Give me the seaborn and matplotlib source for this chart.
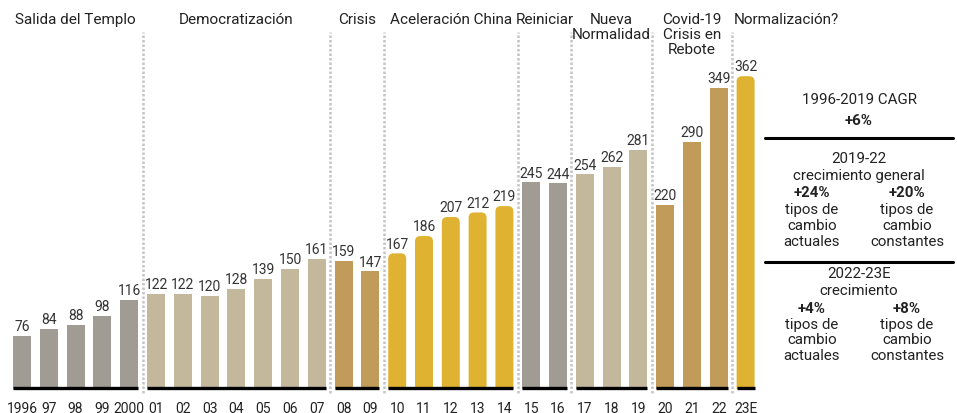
import matplotlib
matplotlib.use("Agg")
import matplotlib.pyplot as plt
from matplotlib.patches import FancyBboxPatch
from matplotlib.lines import Line2D
import seaborn as sns

# data
years = ['1996', '97', '98', '99', '2000', '01', '02', '03', '04', '05', '06', '07',
         '08', '09', '10', '11', '12', '13', '14', '15', '16', '17', '18', '19',
         '20', '21', '22', '23E']
values = [76, 84, 88, 98, 116, 122, 122, 120, 128, 139, 150, 161,
          159, 147, 167, 186, 207, 212, 219, 245, 244, 254, 262, 281,
          220, 290, 349, 362]
phase_titles = ['Salida del Templo', 'Democratización', 'Crisis', 'Aceleración China',
                'Reiniciar', 'Nueva\nNormalidad', 'Covid-19\nCrisis en\nRebote', 'Normalización?']
phase_sizes = [5, 7, 2, 5, 2, 3, 3, 1]
phase_colors = ['#a09b93', '#c4b89c', '#c09b5a', '#dfb331',
                '#a09b93', '#c4b89c', '#c09b5a', '#dfb331']
rounded_color = '#dfb331'

W, H = 957, 414
FONT = ['Roboto', 'DejaVu Sans']

sns.set_style('white')
plt.rcParams['font.family'] = FONT
plt.rcParams['text.color'] = '#222222'

bar_colors = []
for size, col in zip(phase_sizes, phase_colors):
    bar_colors += [col] * size

fig = plt.figure(figsize=(W / 100, H / 100), dpi=100)
ax = fig.add_axes([0, 24 / H, 1, 390 / H])

bar_w = 0.67
sns.barplot(x=years, y=values, hue=years, palette=bar_colors, legend=False,
            width=bar_w, linewidth=0, saturation=1, ax=ax)

y0, y1 = 17.6, 447
ax.set_ylim(y0, y1)
ax.set_xlim(-22 / 26.8, -22 / 26.8 + W / 26.8)

# rounded tops for the yellow phases
px_per_x = 26.8
px_per_y = 390 / (y1 - y0)
aspect = px_per_x / px_per_y
for cont, col in zip(ax.containers, bar_colors):
    p = cont.patches[0]
    if col == rounded_color:
        rb = FancyBboxPatch((p.get_x(), p.get_y()), p.get_width(), p.get_height(),
                            boxstyle="round,pad=0,rounding_size=0.2",
                            mutation_aspect=aspect, fc=col, ec='none')
        p.set_visible(False)
        ax.add_patch(rb)
    ax.bar_label(cont, padding=2, fontsize=10, color='#333333')

# separators, baseline segments and phase titles
start = 0
for title, size in zip(phase_titles, phase_sizes):
    end = start + size - 1
    ax.hlines(y0 + 1.2, start - bar_w / 2, end + bar_w / 2, color='black',
              lw=2.4, clip_on=False, zorder=5)
    if start > 0:
        ax.axvline(start - 0.5, ymin=-0.01, ymax=0.915, color='#c4c4c4',
                   lw=1.8, ls=(0, (1, 0.8)), zorder=0, clip_on=False)
    if title == 'Normalización?':
        ax.text(start - 0.45, 1 - 13 / 390, title, transform=ax.get_xaxis_transform(),
                ha='left', va='top', fontsize=11, linespacing=1.08)
    else:
        ax.text((start + end) / 2, 1 - 13 / 390, title, transform=ax.get_xaxis_transform(),
                ha='center', va='top', fontsize=11, linespacing=1.08)
    start = end + 1

ax.tick_params(axis='x', length=0, pad=8.5, labelsize=10, labelcolor='#222222')
ax.set_yticks([])
ax.set_xlabel('')
ax.set_ylabel('')
sns.despine(ax=ax, left=True, bottom=True)

# right side growth panel
def ftext(x, y, s, bold=False):
    fig.text(x / W, 1 - y / H, s, ha='center', va='center', fontsize=10.8,
             fontweight='bold' if bold else 'normal')

ftext(859, 100, '1996-2019 CAGR')
ftext(859, 121, '+6%', bold=True)
fig.add_artist(Line2D([765 / W, 953 / W], [1 - 139 / H] * 2, color='black', lw=2.2))

ftext(859, 159, '2019-22')
ftext(859, 176, 'crecimiento general')
ftext(812, 193, '+24%', bold=True)
ftext(907, 193, '+20%', bold=True)
for y, a, b in [(210, 'tipos de', 'tipos de'), (226, 'cambio', 'cambio'),
                (242, 'actuales', 'constantes')]:
    ftext(812, y, a)
    ftext(907, y, b)
fig.add_artist(Line2D([765 / W, 953 / W], [1 - 263 / H] * 2, color='black', lw=2.2))

ftext(859, 274, '2022-23E')
ftext(859, 291, 'crecimiento')
ftext(812, 309, '+4%', bold=True)
ftext(907, 309, '+8%', bold=True)
for y, a, b in [(325, 'tipos de', 'tipos de'), (340, 'cambio', 'cambio'),
                (356, 'actuales', 'constantes')]:
    ftext(812, y, a)
    ftext(907, y, b)

fig.savefig('out.png', dpi=100)
